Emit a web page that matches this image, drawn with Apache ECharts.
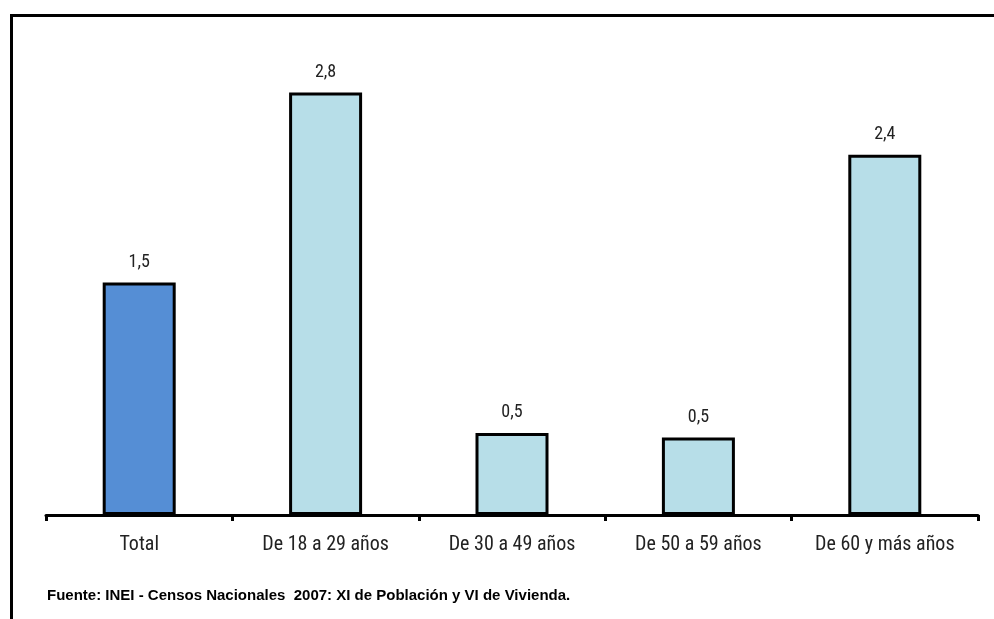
<!DOCTYPE html>
<html><head><meta charset="utf-8">
<script src="https://cdn.jsdelivr.net/npm/echarts@6/dist/echarts.min.js"></script>
<style>html,body{margin:0;padding:0;background:#fff}#c{width:994px;height:619px}</style>
</head><body><div id="c"></div>
<script>
const categories = ['Total', 'De 18 a 29 años', 'De 30 a 49 años', 'De 50 a 59 años', 'De 60 y más años'];
const values = [1.53, 2.78, 0.54, 0.51, 2.37];
const barColors = ['#558ED5', '#B7DEE8', '#B7DEE8', '#B7DEE8', '#B7DEE8'];
const sourceText = 'Fuente: INEI - Censos Nacionales  2007: XI de Población y VI de Vivienda.';

const font = "'Roboto Condensed','Liberation Sans',sans-serif";
const chart = echarts.init(document.getElementById('c'));
chart.setOption({
  animation: false,
  grid: { left: 46, right: 16, top: 59, bottom: 104 },
  xAxis: {
    type: 'category', data: categories,
    axisLine: { lineStyle: { color: '#000', width: 3 } },
    axisTick: { show: true, length: 6, lineStyle: { color: '#000', width: 3 } },
    axisLabel: { color: '#222', fontSize: 20, fontFamily: font, margin: 20 }
  },
  yAxis: { type: 'value', min: 0, max: 3, show: false, splitLine: { show: false } },
  series: [{
    type: 'bar', barWidth: 73,
    data: values.map((v, i) => ({ value: v, itemStyle: { color: barColors[i] } })),
    itemStyle: { borderColor: '#000', borderWidth: 3 },
    label: { show: true, position: 'top', distance: 11, color: '#222', fontSize: 18, fontFamily: font,
      formatter: p => p.value.toFixed(1).replace('.', ',') }
  }],
  graphic: [
    { type: 'line', shape: { x1: 10, y1: 15.5, x2: 994, y2: 15.5 }, style: { stroke: '#000', lineWidth: 3 } },
    { type: 'line', shape: { x1: 11.5, y1: 14, x2: 11.5, y2: 619 }, style: { stroke: '#000', lineWidth: 3 } },
    { type: 'text', left: 47, top: 588, style: { text: sourceText, font: "bold 15px 'Liberation Sans',sans-serif", fill: '#000' } }
  ]
});
</script></body></html>
